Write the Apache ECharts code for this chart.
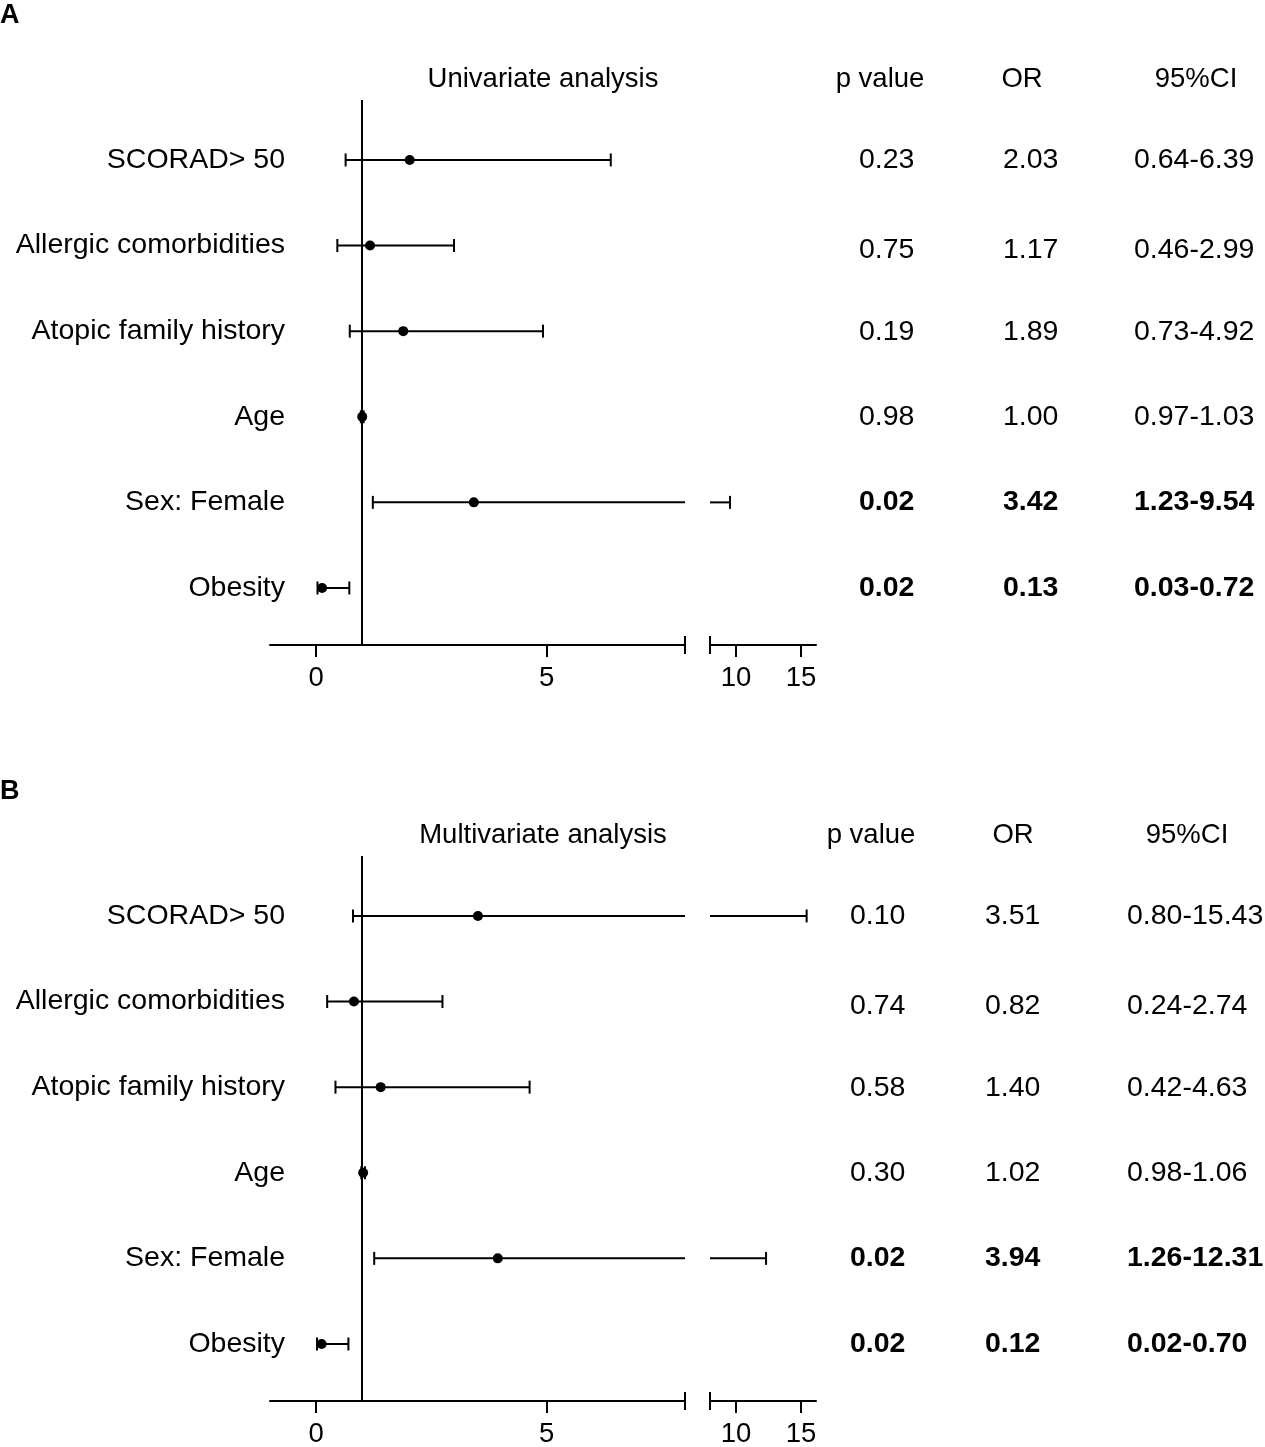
<!DOCTYPE html>
<html><head><meta charset="utf-8">
<script src="https://cdn.jsdelivr.net/npm/echarts@6/dist/echarts.min.js"></script>
<style>html,body{margin:0;padding:0;background:#fff}#c{width:1265px;height:1447px}</style>
</head><body><div id="c"></div>
<script>
// ---- data ----
const variables = ['SCORAD> 50','Allergic comorbidities','Atopic family history','Age','Sex: Female','Obesity'];
const uniOR   = [2.03, 1.17, 1.89, 1.00, 3.42, 0.13];
const uniLow  = [0.64, 0.46, 0.73, 0.97, 1.23, 0.03];
const uniHigh = [6.39, 2.99, 4.92, 1.03, 9.54, 0.72];
const uniP    = ['0.23','0.75','0.19','0.98','0.02','0.02'];
const multiOR   = [3.51, 0.82, 1.40, 1.02, 3.94, 0.12];
const multiLow  = [0.80, 0.24, 0.42, 0.98, 1.26, 0.02];
const multiHigh = [15.43, 2.74, 4.63, 1.06, 12.31, 0.70];
const multiP    = ['0.10','0.74','0.58','0.30','0.02','0.02'];
const tableHeaders = ['p value','OR','95%CI'];
const panelTitles = ['Univariate analysis','Multivariate analysis'];
const panelLetters = ['A','B'];
const leftTicks = [0, 5];
const rightTicks = [10, 15];
const refValue = 1;
const axisBreak = 8;

// ---- layout ----
const FONT = "'Liberation Sans', Arial, sans-serif";
const LEFT_MIN = -1, RIGHT_MAX = 16.15;
const Y_MIN = 0.334, Y_MAX = 6.70;
const panelOffsets = [0, 756];
const letterY = [16, 792];
const colLeftX = [[859, 1003, 1134], [850, 985, 1127]];
const headerX  = [[880, 1022, 1196], [871, 1013, 1187]];
const tableRowShift = [0, 5, 1, 0, 0, 0];

const chart = echarts.init(document.getElementById('c'), null, {renderer:'canvas'});

function errRenderer(xmin, xmax){
  return function(params, api){
    const lo = api.value(0), hi = api.value(1), or = api.value(2), row = api.value(3);
    const a = Math.max(lo, xmin), b = Math.min(hi, xmax);
    const st = {stroke:'#000', lineWidth:2};
    const ch = [];
    if (b > a) {
      const p1 = api.coord([a,row]), p2 = api.coord([b,row]);
      ch.push({type:'line', shape:{x1:p1[0],y1:p1[1],x2:p2[0],y2:p2[1]}, style:st});
      if (lo >= xmin) ch.push({type:'line', shape:{x1:p1[0],y1:p1[1]-6.5,x2:p1[0],y2:p1[1]+6.5}, style:st});
      if (hi <= xmax) ch.push({type:'line', shape:{x1:p2[0],y1:p2[1]-6.5,x2:p2[0],y2:p2[1]+6.5}, style:st});
    }
    if (or >= xmin && or <= xmax) {
      const c = api.coord([or,row]);
      ch.push({type:'circle', shape:{cx:c[0],cy:c[1],r:5}, style:{fill:'#000'}});
    }
    return {type:'group', children:ch};
  };
}
function breakCapRenderer(params, api){
  const p = api.coord([api.value(0), Y_MIN]);
  return {type:'line', shape:{x1:p[0],y1:p[1]-9,x2:p[0],y2:p[1]+9}, style:{stroke:'#000', lineWidth:2}};
}

const grid = [], xAxis = [], yAxis = [], series = [], graphic = [];
const panels = [
  {or:uniOR, lo:uniLow, hi:uniHigh, p:uniP},
  {or:multiOR, lo:multiLow, hi:multiHigh, p:multiP}
];

panels.forEach((pd, k) => {
  const T = panelOffsets[k];
  const gi = grid.length;
  grid.push({left:270, top:T+100, width:415, height:545, outerBoundsMode:'none'});
  grid.push({left:710, top:T+100, width:106, height:545, outerBoundsMode:'none'});
  grid.push({left:0, top:T+100, width:1265, height:545, outerBoundsMode:'none'});

  const axLine = {show:true, lineStyle:{color:'#000', width:2}};
  const tickLbl = {fontSize:27.5, color:'#000', fontFamily:FONT, margin:19};
  xAxis.push({gridIndex:gi, type:'value', min:LEFT_MIN, max:axisBreak, axisLine:axLine,
    axisTick:{show:true, customValues:leftTicks, length:12, lineStyle:{color:'#000', width:2}},
    axisLabel:Object.assign({customValues:leftTicks}, tickLbl), splitLine:{show:false}});
  xAxis.push({gridIndex:gi+1, type:'value', min:axisBreak, max:RIGHT_MAX, axisLine:axLine,
    axisTick:{show:true, customValues:rightTicks, length:12, lineStyle:{color:'#000', width:2}},
    axisLabel:Object.assign({customValues:rightTicks}, tickLbl), splitLine:{show:false}});
  xAxis.push({gridIndex:gi+2, type:'value', min:0, max:1265, show:false});

  yAxis.push({gridIndex:gi, type:'value', min:Y_MIN, max:Y_MAX,
    axisLine:{show:false}, axisTick:{show:false}, splitLine:{show:false},
    axisLabel:{customValues:[1,2,3,4,5,6], margin:-15, fontSize:28.5, color:'#000', fontFamily:FONT,
      formatter: v => variables[6 - Math.round(v)]}});
  yAxis.push({gridIndex:gi+1, type:'value', min:Y_MIN, max:Y_MAX, show:false});
  yAxis.push({gridIndex:gi+2, type:'value', min:Y_MIN, max:Y_MAX, show:false});

  const errData = pd.lo.map((l,i) => [l, pd.hi[i], pd.or[i], 6 - i]);
  series.push({type:'custom', xAxisIndex:gi, yAxisIndex:gi, renderItem:errRenderer(LEFT_MIN, axisBreak),
    data:errData, encode:{x:[0,1,2], y:3}, silent:true, z:3,
    markLine:{symbol:'none', silent:true, label:{show:false}, lineStyle:{color:'#000', width:2, type:'solid'},
      data:[{xAxis:refValue}]}});
  series.push({type:'custom', xAxisIndex:gi+1, yAxisIndex:gi+1, renderItem:errRenderer(axisBreak, RIGHT_MAX),
    data:errData, encode:{x:[0,1,2], y:3}, silent:true, z:3});
  series.push({type:'custom', xAxisIndex:gi, yAxisIndex:gi, renderItem:breakCapRenderer, data:[[axisBreak]], silent:true});
  series.push({type:'custom', xAxisIndex:gi+1, yAxisIndex:gi+1, renderItem:breakCapRenderer, data:[[axisBreak]], silent:true});

  // table
  const tdata = [];
  pd.or.forEach((o,i) => {
    const sig = parseFloat(pd.p[i]) < 0.05;
    const texts = [pd.p[i], o.toFixed(2), pd.lo[i].toFixed(2) + '-' + pd.hi[i].toFixed(2)];
    texts.forEach((t,c) => {
      tdata.push({value:[colLeftX[k][c], 6 - i, t],
        label:{fontWeight: sig ? 'bold' : 'normal', color:'#000', offset:[0, tableRowShift[i]]}});
    });
  });
  series.push({type:'scatter', xAxisIndex:gi+2, yAxisIndex:gi+2, symbolSize:0, silent:true, data:tdata,
    itemStyle:{opacity:1},
    label:{show:true, position:'right', distance:0, fontSize:28.5, color:'#000', opacity:1, fontFamily:FONT,
      formatter: p => p.data.value[2]}});

  // headers
  graphic.push({type:'text', x:543, y:T+79, style:{text:panelTitles[k], font:'27.5px ' + FONT, fill:'#000', textAlign:'center', textVerticalAlign:'middle'}});
  tableHeaders.forEach((h,c) => {
    graphic.push({type:'text', x:headerX[k][c], y:T+79, style:{text:h, font:'27.5px ' + FONT, fill:'#000', textAlign:'center', textVerticalAlign:'middle'}});
  });
  graphic.push({type:'text', x:0, y:letterY[k], style:{text:panelLetters[k], font:'bold 27px ' + FONT, fill:'#000', textAlign:'left', textVerticalAlign:'middle'}});
});

chart.setOption({animation:false, backgroundColor:'#fff', grid, xAxis, yAxis, series, graphic});
</script>
</body></html>
